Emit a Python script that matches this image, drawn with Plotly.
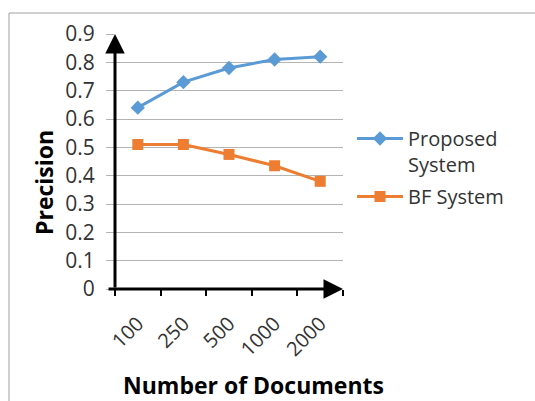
import plotly.graph_objects as go

categories = ["100", "250", "500", "1000", "2000"]
proposed = [0.64, 0.73, 0.78, 0.81, 0.82]
bf_system = [0.51, 0.51, 0.475, 0.435, 0.38]
y_ticks = [0, 0.1, 0.2, 0.3, 0.4, 0.5, 0.6, 0.7, 0.8, 0.9]
y_labels = ["0", "0.1", "0.2", "0.3", "0.4", "0.5", "0.6", "0.7", "0.8", "0.9"]

FONT = "Open Sans"
BLUE = "#5B9BD5"
ORANGE = "#ED7D31"
TXT = "#333333"

fig = go.Figure()
fig.add_trace(go.Scatter(
    x=categories, y=proposed, name="Proposed<br>System", mode="lines+markers",
    legendgroup="a",
    line=dict(color=BLUE, width=3), marker=dict(symbol="diamond", size=11, color=BLUE)))
fig.add_trace(go.Scatter(
    x=categories, y=bf_system, name="BF System", mode="lines+markers",
    legendgroup="b",
    line=dict(color=ORANGE, width=3), marker=dict(symbol="square", size=11, color=ORANGE)))

W, H = 535, 401
L, R, T, B = 115, 192, 34, 112
pw, ph = W - L - R, H - T - B

def px(xp):
    return (xp - L) / pw

def py(yp):
    return (H - B - yp) / ph

fig.update_layout(
    width=W, height=H,
    margin=dict(l=L, r=R, t=T, b=B),
    paper_bgcolor="white", plot_bgcolor="white",
    font=dict(family=FONT, size=18, color=TXT),
    showlegend=True,
    legend=dict(x=px(352), y=py(119), xanchor="left", yanchor="top",
                font=dict(size=20, color=TXT), bgcolor="rgba(0,0,0,0)",
                valign="top", itemwidth=46, tracegroupgap=3),
    xaxis=dict(type="category", range=[-0.5, 4.5], showgrid=False, zeroline=False,
               showline=False, ticks="outside", tickson="boundaries", ticklen=6,
               tickwidth=2, tickcolor="black", tickangle=-45, ticklabelstandoff=18,
               tickfont=dict(size=20, color=TXT)),
    yaxis=dict(range=[0, 0.9], tickvals=y_ticks, ticktext=y_labels, showgrid=True,
               gridcolor="#B4B4B4", gridwidth=1, zeroline=False, showline=False,
               ticks="outside", ticklen=8, tickcolor="#B4B4B4", ticklabelstandoff=7,
               tickfont=dict(size=21, color=TXT)),
)

# axis lines with arrowheads
fig.add_annotation(x=0, y=1, xref="paper", yref="paper", ax=0, ay=ph, axref="pixel",
                   ayref="pixel", showarrow=True, arrowhead=2, arrowsize=1.3,
                   arrowwidth=3, arrowcolor="black", standoff=0, text="")
fig.add_annotation(x=1, y=0, xref="paper", yref="paper", ax=-pw - 8, ay=0,
                   showarrow=True, arrowhead=2, arrowsize=1.3,
                   arrowwidth=3, arrowcolor="black", standoff=0, text="")

# titles
fig.add_annotation(x=px(253), y=py(385), xref="paper", yref="paper", showarrow=False,
                   text="<b>Number of Documents</b>", font=dict(size=23, color="black", family=FONT),
                   xanchor="center", yanchor="middle")
fig.add_annotation(x=px(44), y=py(183), xref="paper", yref="paper", showarrow=False,
                   text="<b>Precision</b>", textangle=-90, font=dict(size=23, color="black", family=FONT),
                   xanchor="center", yanchor="middle")

# outer frame
fig.add_shape(type="rect", xref="paper", yref="paper",
              x0=px(9), x1=px(545), y0=py(415), y1=py(13),
              line=dict(color="#A0A0A0", width=1), fillcolor="rgba(0,0,0,0)", layer="below")

fig.write_html("out.html", config={"displayModeBar": False},
               post_script="document.body.style.margin='0';document.body.style.overflow='hidden';")
